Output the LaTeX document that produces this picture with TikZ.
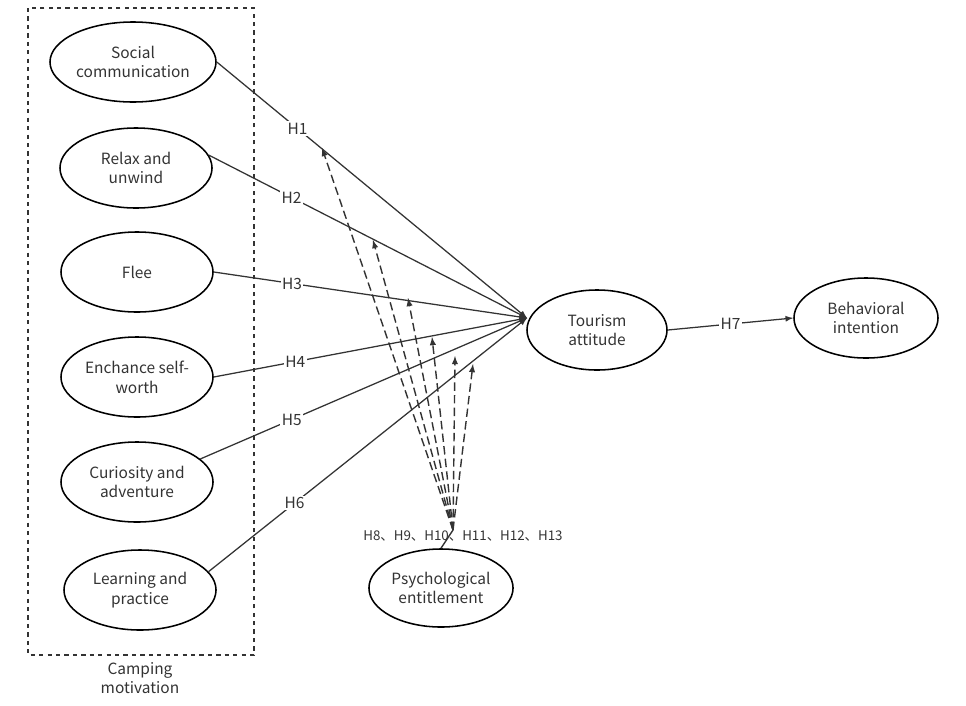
\documentclass[tikz,border=0pt]{standalone}
\usepackage{fontspec}
\setmainfont{Noto Sans CJK SC}
\usetikzlibrary{shapes.geometric}
\usetikzlibrary{positioning}
\begin{document}
\begin{tikzpicture}[
  x = 0.025cm, y = -0.025cm,
  > = latex,
  var/.style = {draw,ellipse,line width=1.1pt,minimum width=3.8cm,minimum height=2cm,
    align=center,font=\fontsize{11}{14}\selectfont,text=black!80,inner sep=1pt},
  link/.style = {->,draw=black!80,line width=0.9pt},
  mod/.style = {->,draw=black!80,line width=1pt,dashed,dash pattern=on 6pt off 3pt},
  hyp/.style = {fill=white,inner sep=1pt,font=\fontsize{11}{13}\selectfont,text=black!80}
  ]
  \useasboundingbox (0,0) rectangle (966,705);
  \draw[dashed,line width=1pt,black!80] (28,8) rectangle (254,655);
  \node[font=\fontsize{11}{14}\selectfont,text=black!80,align=center] (cm) at (140,678) {Camping\\motivation};

  \node[var,minimum width=4.15cm] (sc) at (133,62) {Social\\communication};
  \node[var] (ru) at (136,168) {Relax and\\unwind};
  \node[var] (fl) at (137,272) {Flee};
  \node[var] (ew) at (137,377) {Enchance self-\\worth};
  \node[var] (cu) at (137,482) {Curiosity and\\adventure};
  \node[var] (lp) at (140,590) {Learning and\\practice};
  \node[var,minimum width=3.5cm] (ta) at (597,330) {Tourism\\attitude};
  \node[var,minimum width=3.6cm] (bi) at (866,318) {Behavioral\\intention};
  \node[var,minimum width=2.9cm,minimum height=1.95cm] (pe) at (441,588) {Psychological\\entitlement};

  \coordinate (tip) at (527,318);
  \draw[link] (sc.east) -- (tip) node[hyp,pos=0.26] {H1};
  \draw[link] (ru.10) -- (tip) node[hyp,pos=0.26] {H2};
  \draw[link] (fl.east) -- (tip) node[hyp,pos=0.25] {H3};
  \draw[link] (ew.east) -- (tip) node[hyp,pos=0.26] {H4};
  \draw[link] (cu.20) -- (tip) node[hyp,pos=0.28] {H5};
  \draw[link] (lp.15) -- (tip) node[hyp,pos=0.27] {H6};
  \draw[link] (ta.east) -- (bi.west) node[hyp,midway] {H7};

  \coordinate (hub) at (453,530);
  \draw[line width=1pt,black!80] (pe.north) -- (hub);
  \node[font=\fontsize{9.5}{11}\selectfont,text=black!80] (hl) at (463,536) {H8、H9、H10、H11、H12、H13};
  \coordinate (m1) at (322,148);
  \coordinate (m2) at (373,240);
  \coordinate (m3) at (408,298);
  \coordinate (m4) at (432,337);
  \coordinate (m5) at (455,356);
  \coordinate (m6) at (473,364);
  \foreach \m in {m1,m2,m3,m4,m5,m6}
    \draw[mod] (hub) -- (\m);
\end{tikzpicture}
\end{document}
